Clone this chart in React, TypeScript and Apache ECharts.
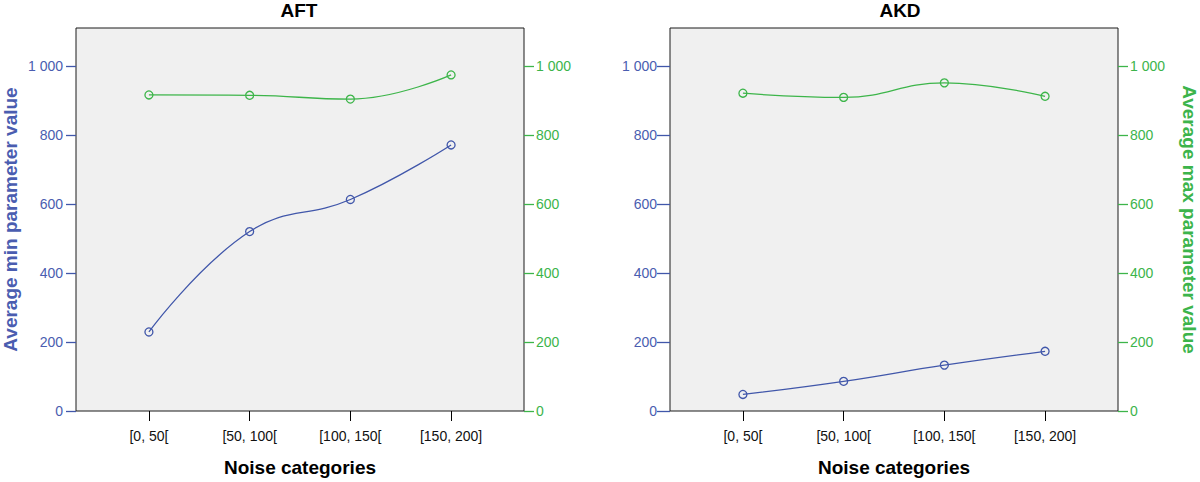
import React, { useEffect, useRef } from "react";
import * as echarts from "echarts";

const categories = ["[0, 50[", "[50, 100[", "[100, 150[", "[150, 200]"];
const panelTitles = ["AFT", "AKD"];
const aftMin = [229, 520, 613, 771];
const aftMax = [916, 915, 904, 974];
const akdMin = [48, 86, 133, 173];
const akdMax = [921, 909, 951, 912];
const yTickValues = [0, 200, 400, 600, 800, 1000];
const yTickLabels = ["0", "200", "400", "600", "800", "1 000"];
const xLabel = "Noise categories";
const leftAxisName = "Average min parameter value";
const rightAxisName = "Average max parameter value";

const BLUE = "#4157aa";
const BLUE_TXT = "#4a5db0";
const GREEN = "#3db54a";
const GREEN_TXT = "#3cb44b";
const FONT = "Liberation Sans, Arial, sans-serif";

const toPairs = (vals: number[]) => vals.map((v, i) => [i, v]);
const yFmt = (v: number) => {
  const i = yTickValues.indexOf(v);
  return i >= 0 ? yTickLabels[i] : "";
};

export default function App() {
  const ref = useRef<HTMLDivElement>(null);
  useEffect(() => {
    document.body.style.margin = "0";
    if (!ref.current) return;
    const chart = echarts.init(ref.current, undefined, { renderer: "svg" });

    const grids = [
      { left: 74, right: 676, top: 28, bottom: 68 },
      { left: 670, right: 79, top: 28, bottom: 68 },
    ].map((g) => ({
      ...g,
      show: true,
      backgroundColor: "#f0f0f0",
      borderColor: "#1a1a1a",
      borderWidth: 1,
      containLabel: false,
    }));

    const xAxes = [0, 1].map((gi) => ({
      type: "value",
      gridIndex: gi,
      position: "bottom",
      min: -0.724,
      max: 3.724,
      name: xLabel,
      nameLocation: "middle",
      nameGap: 47,
      nameTextStyle: { fontFamily: FONT, fontSize: 19, fontWeight: "bold", color: "#000" },
      axisLine: { show: false, onZero: false },
      splitLine: { show: false },
      axisTick: { show: true, length: 10, lineStyle: { color: "#000" }, customValues: [0, 1, 2, 3] },
      axisLabel: {
        customValues: [0, 1, 2, 3],
        formatter: (v: number) => categories[Math.round(v)] ?? "",
        margin: 18,
        color: "#111",
        fontFamily: FONT,
        fontSize: 14,
      },
    }));

    const mkY = (gi: number, pos: "left" | "right", color: string, txt: string, name?: string) => ({
      type: "value",
      gridIndex: gi,
      position: pos,
      min: 0,
      max: 1110,
      name: name ?? "",
      nameLocation: "middle",
      nameRotate: pos === "left" ? 90 : -90,
      nameGap: pos === "left" ? 56 : 62,
      nameTextStyle: { fontFamily: FONT, fontSize: 19, fontWeight: "bold", color: txt },
      axisLine: { show: false, onZero: false },
      splitLine: { show: false },
      axisTick: {
        show: true,
        length: pos === "left" && gi === 1 ? 13 : 10,
        lineStyle: { color, width: 1.3 },
        customValues: yTickValues,
      },
      axisLabel: {
        customValues: yTickValues,
        formatter: yFmt,
        margin: pos === "left" ? 13 : 12,
        color: txt,
        fontFamily: FONT,
        fontSize: 14,
      },
    });

    const yAxes = [
      mkY(0, "left", BLUE, BLUE_TXT, leftAxisName),
      mkY(0, "right", GREEN, GREEN_TXT),
      mkY(1, "left", BLUE, BLUE_TXT),
      mkY(1, "right", GREEN, GREEN_TXT, rightAxisName),
    ];

    const mkS = (data: number[], xi: number, yi: number, color: string) => ({
      type: "line",
      xAxisIndex: xi,
      yAxisIndex: yi,
      data: toPairs(data),
      smooth: 0.45,
      symbol: "circle",
      symbolSize: 8,
      showSymbol: true,
      lineStyle: { color, width: 1.3 },
      itemStyle: { color: "transparent", borderColor: color, borderWidth: 1.3 },
      emphasis: { disabled: true },
    });

    chart.setOption({
      animation: false,
      backgroundColor: "#fff",
      title: [
        { text: panelTitles[0], left: 299, top: 0, textAlign: "center" },
        { text: panelTitles[1], left: 900, top: 0, textAlign: "center" },
      ].map((t) => ({
        ...t,
        padding: 0,
        textStyle: { fontFamily: FONT, fontSize: 19, fontWeight: "bold", color: "#000", lineHeight: 20 },
      })),
      grid: grids,
      xAxis: xAxes,
      yAxis: yAxes,
      series: [
        mkS(aftMin, 0, 0, BLUE),
        mkS(aftMax, 0, 1, GREEN),
        mkS(akdMin, 1, 2, BLUE),
        mkS(akdMax, 1, 3, GREEN),
      ],
    });
    return () => chart.dispose();
  }, []);
  return <div ref={ref} style={{ width: 1200, height: 482 }} />;
}
